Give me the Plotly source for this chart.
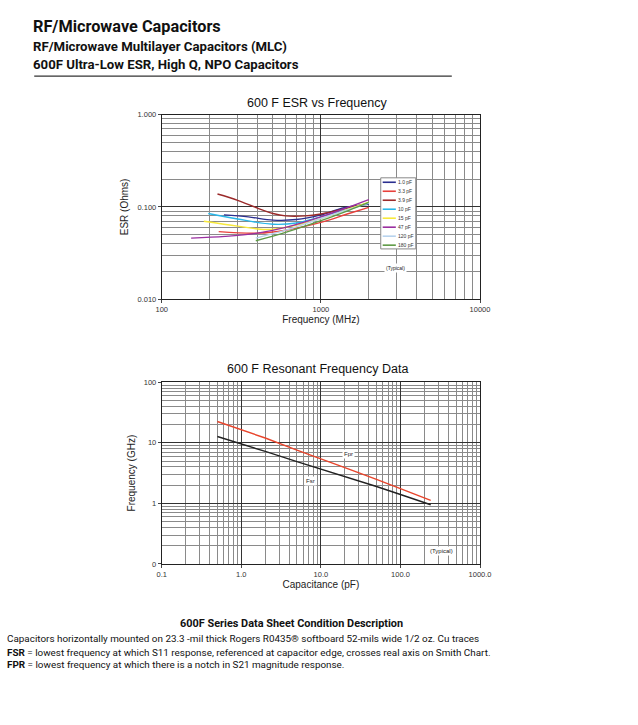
import plotly.graph_objects as go

# ESR vs frequency (MHz, Ohms)
esr_series = ["1.0 pF", "3.3 pF", "3.9 pF", "10 pF", "15 pF", "47 pF", "120 pF", "180 pF"]
esr_colors = ["#2b2f8f", "#e8413c", "#9b2a2a", "#29b6e8", "#f7e93c", "#9a2fa0", "#b8d3ee", "#5e9a45"]
esr_freq = [
    [246, 350, 500, 700, 1000, 1400, 2000],
    [228, 400, 600, 1000, 1500, 2000],
    [224, 300, 400, 500, 600, 800, 1000, 1500, 2000],
    [196, 300, 500, 700, 1000, 1500, 2000],
    [184, 300, 450, 600, 1000, 1500, 2000],
    [153, 250, 400, 600, 1000, 1500, 2000],
    [390, 600, 1000, 1500, 2000],
    [390, 600, 1000, 1500, 2000],
]
esr_vals = [
    [0.082, 0.078, 0.072, 0.073, 0.082, 0.098, 0.107],
    [0.054, 0.052, 0.056, 0.068, 0.085, 0.099],
    [0.138, 0.118, 0.097, 0.085, 0.080, 0.080, 0.084, 0.098, 0.110],
    [0.085, 0.074, 0.065, 0.067, 0.078, 0.095, 0.110],
    [0.070, 0.062, 0.057, 0.060, 0.075, 0.095, 0.113],
    [0.046, 0.048, 0.052, 0.060, 0.078, 0.100, 0.120],
    [0.046, 0.056, 0.075, 0.094, 0.110],
    [0.043, 0.053, 0.071, 0.092, 0.112],
]

# resonant frequency (GHz) vs capacitance (pF)
cap_pf = [0.5, 1, 2, 5, 10, 20, 50, 100, 240]
fpr_ghz = [22.5, 16.5, 12.0, 7.6, 5.5, 3.9, 2.5, 1.75, 1.12]
fsr_ghz = [12.7, 9.7, 7.2, 4.9, 3.7, 2.8, 1.9, 1.4, 0.95]

CHART_FONT = "Liberation Sans, Arial, sans-serif"
HEAD_FONT = "Roboto, Arial, sans-serif"

W, H = 638, 725


def px(x):
    return x / W


def py(y):
    return 1 - y / H


fig = go.Figure()

for name, col, fx, fy in zip(esr_series, esr_colors, esr_freq, esr_vals):
    fig.add_trace(go.Scatter(x=fx, y=fy, mode="lines", name=name,
                             line=dict(color=col, width=1.4, shape="spline"),
                             xaxis="x", yaxis="y"))

fig.add_trace(go.Scatter(x=cap_pf, y=fpr_ghz, mode="lines", name="Fpr",
                         line=dict(color="#e8452c", width=1.4), xaxis="x2", yaxis="y2"))
fig.add_trace(go.Scatter(x=cap_pf, y=fsr_ghz, mode="lines", name="Fsr",
                         line=dict(color="#222222", width=1.4), xaxis="x2", yaxis="y2"))

axis_common = dict(type="log", showgrid=True, gridcolor="#333333", gridwidth=1,
                   showline=True, linecolor="#222", linewidth=1, mirror=True,
                   ticks="outside", ticklen=3, tickcolor="#444",
                   tickfont=dict(size=7.5, color="#333", family=CHART_FONT),
                   minor=dict(dtick="D1", showgrid=True, gridcolor="#8a8a8a", gridwidth=1),
                   zeroline=False)

fig.update_layout(
    width=W, height=H,
    margin=dict(l=0, r=0, t=0, b=0),
    paper_bgcolor="white", plot_bgcolor="white",
    font=dict(family=CHART_FONT, color="#222"),
    showlegend=False,
    xaxis=dict(axis_common, domain=[px(160), px(487)], anchor="y", range=[2, 4],
               tickvals=[100, 1000, 10000], ticktext=["100", "1000", "10000"],
               title=dict(text="Frequency (MHz)", font=dict(size=10), standoff=1)),
    yaxis=dict(axis_common, domain=[py(299), py(112)], anchor="x", range=[-2, 0],
               tickvals=[0.01, 0.1, 1], ticktext=["0.010", "0.100", "1.000"],
               title=dict(text="ESR (Ohms)", font=dict(size=10), standoff=6)),
    xaxis2=dict(axis_common, domain=[px(160), px(487)], anchor="y2", range=[-1, 3],
                tickvals=[0.1, 1, 10, 100, 1000], ticktext=["0.1", "1.0", "10.0", "100.0", "1000.0"],
                title=dict(text="Capacitance (pF)", font=dict(size=10), standoff=1)),
    yaxis2=dict(axis_common, domain=[py(567), py(383)], anchor="x2", range=[-1, 2],
                tickvals=[0.1, 1, 10, 100], ticktext=["0", "1", "10", "100"],
                title=dict(text="Frequency (GHz)", font=dict(size=10), standoff=6)),
)


def note(text, x, y, size, family=CHART_FONT, xanchor="center", **kw):
    return dict(text=text, xref="paper", yref="paper", x=px(x), y=py(y), xanchor=xanchor,
                yanchor="middle", showarrow=False, font=dict(size=size, family=family, color="#111"), **kw)


annotations = [
    note("600 F ESR vs Frequency", 320, 100, 12.5),
    note("600 F Resonant Frequency Data", 320, 370, 12.5),
    dict(text="(Typical)", xref="x", yref="y", x=3.468, y=-1.658, showarrow=False,
         bgcolor="white", font=dict(size=5)),
    dict(text="Fpr", xref="x2", yref="y2", x=1.345, y=0.82, showarrow=False,
         bgcolor="white", font=dict(size=6)),
    dict(text="Fsr", xref="x2", yref="y2", x=0.87, y=0.37, showarrow=False,
         bgcolor="white", font=dict(size=6)),
    dict(text="(Typical)", xref="x2", yref="y2", x=2.52, y=-0.79, showarrow=False,
         bgcolor="white", font=dict(size=6)),
    # page header
    note("<b>RF/Microwave Capacitors</b>", 26, 23, 16.3, HEAD_FONT, "left"),
    note("<b>RF/Microwave Multilayer Capacitors (MLC)</b>", 26, 43, 13.2, HEAD_FONT, "left"),
    note("<b>600F Ultra-Low ESR, High Q, NPO Capacitors</b>", 26, 61, 13.2, HEAD_FONT, "left"),
    # footer notes
    note("<b>600F Series Data Sheet Condition Description</b>", 293, 627, 10.9, HEAD_FONT),
    note("Capacitors horizontally mounted on 23.3 -mil thick Rogers R0435® softboard 52-mils wide 1/2 oz. Cu traces",
         -1, 642, 9.9, HEAD_FONT, "left"),
    note("<b>FSR</b> = lowest frequency at which S11 response, referenced at capacitor edge, crosses real axis on Smith Chart.",
         -1, 657, 9.9, HEAD_FONT, "left"),
    note("<b>FPR</b> = lowest frequency at which there is a notch in S21 magnitude response.",
         -1, 669, 9.9, HEAD_FONT, "left"),
]

shapes = [dict(type="line", xref="paper", yref="paper", x0=px(29), x1=px(458),
               y0=py(73), y1=py(73), line=dict(color="#333", width=1.2))]

# small boxed legend inside the ESR chart
LEG_L, LEG_R, LEG_T, LEG_B = 385, 421, 176, 248
LEG_ROW0, LEG_STEP = 180.5, 9.1
shapes.append(dict(type="rect", xref="paper", yref="paper", x0=px(LEG_L), x1=px(LEG_R),
                   y0=py(LEG_B), y1=py(LEG_T), fillcolor="white", line=dict(color="#888", width=1),
                   layer="above"))
for i, (name, col) in enumerate(zip(esr_series, esr_colors)):
    yy = LEG_ROW0 + i * LEG_STEP
    shapes.append(dict(type="line", xref="paper", yref="paper", x0=px(387), x1=px(400.5),
                       y0=py(yy), y1=py(yy), line=dict(color=col, width=1.6), layer="above"))
    annotations.append(dict(text=name, xref="paper", yref="paper", x=px(401), y=py(yy),
                            xanchor="left", yanchor="middle", showarrow=False,
                            font=dict(size=5, family=CHART_FONT, color="#333")))

fig.update_layout(annotations=annotations, shapes=shapes)

# drop the browser's default body margin so the page coordinates line up
fig.write_html("out.html", config={"displayModeBar": False},
               post_script="document.body.style.margin='0';")
